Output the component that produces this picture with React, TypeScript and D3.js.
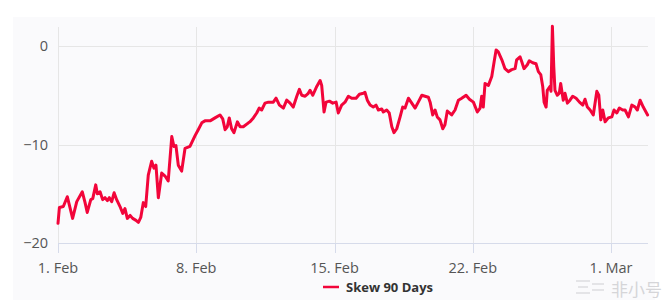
import React from "react";
import * as d3 from "d3";

// Days since 1 Feb 2021 (fractional) and 90-day skew values
const dayOffsets = [
  0, 0.07, 0.27, 0.47, 0.57, 0.74, 0.95, 1.23, 1.37, 1.48, 1.66, 1.76, 1.91, 1.99, 2.13, 2.26, 2.38, 2.5, 2.6, 2.72,
  2.84, 2.97, 3.14, 3.28, 3.39, 3.51, 3.65, 3.78, 3.95, 4.07, 4.19, 4.32, 4.44, 4.57, 4.74, 4.86, 4.96, 5.08, 5.25, 5.42,
  5.58, 5.76, 5.87, 5.97, 6.09, 6.26, 6.43, 6.68, 6.94, 7.1, 7.28, 7.44, 7.7, 7.95, 8.2, 8.34, 8.46, 8.57, 8.67, 8.79,
  8.91, 9.08, 9.22, 9.38, 9.64, 9.72, 9.89, 10.06, 10.19, 10.31, 10.48, 10.65, 10.9, 11.04, 11.21, 11.41, 11.58, 11.75, 11.91, 12.09,
  12.22, 12.34, 12.51, 12.67, 12.76, 12.9, 13.1, 13.27, 13.35, 13.47, 13.57, 13.74, 13.91, 14.08, 14.19, 14.36, 14.53, 14.7, 14.87, 15.09,
  15.26, 15.46, 15.54, 15.66, 15.8, 15.96, 16.1, 16.22, 16.39, 16.47, 16.64, 16.77, 16.9, 17.01, 17.15, 17.32, 17.45, 17.57, 17.74, 17.91,
  18.08, 18.24, 18.42, 18.58, 18.75, 18.84, 18.97, 19.09, 19.2, 19.34, 19.48, 19.59, 19.71, 19.93, 20.1, 20.27, 20.44, 20.66, 20.83, 21.03,
  21.23, 21.37, 21.45, 21.53, 21.62, 21.79, 21.96, 22.08, 22.18, 22.29, 22.47, 22.63, 22.8, 22.97, 23.14, 23.22, 23.39, 23.48, 23.59, 23.76,
  23.86, 24.03, 24.2, 24.32, 24.44, 24.54, 24.61, 24.71, 24.77, 24.91, 24.96, 25.03, 25.1, 25.16, 25.28, 25.38, 25.45, 25.58, 25.67, 25.79,
  25.92, 26.06, 26.23, 26.4, 26.57, 26.68, 26.8, 26.94, 27.1, 27.28, 27.38, 27.48, 27.58, 27.7, 27.86, 28.04, 28.15, 28.29, 28.42, 28.59,
  28.71, 28.88, 29.05, 29.22, 29.33, 29.47, 29.63, 29.85,
];

const skew90 = [
  -18.0, -16.4, -16.3, -15.3, -16.1, -17.5, -15.8, -14.8, -15.9, -16.9, -15.6, -15.5, -14.1, -15.0, -14.8, -15.6, -15.4, -15.7, -15.4, -15.8,
  -14.9, -15.6, -16.3, -17.0, -16.5, -17.5, -17.2, -17.5, -17.7, -17.9, -17.4, -15.9, -16.3, -13.1, -11.7, -12.4, -12.1, -15.4, -12.9, -13.2,
  -13.7, -9.2, -10.2, -10.1, -12.1, -12.7, -10.4, -10.2, -9.1, -8.5, -7.8, -7.6, -7.6, -7.3, -7.0, -7.4, -8.5, -8.2, -7.3, -8.4,
  -8.8, -7.7, -8.2, -8.2, -7.8, -7.7, -7.3, -6.8, -6.3, -6.5, -5.8, -5.7, -5.7, -5.3, -6.0, -6.3, -5.5, -5.8, -6.2, -5.1,
  -4.4, -5.0, -5.1, -4.8, -4.5, -5.0, -4.1, -3.5, -4.0, -6.7, -5.7, -5.6, -5.8, -5.7, -6.8, -6.0, -5.7, -5.1, -5.3, -5.3,
  -4.9, -4.8, -4.7, -5.5, -6.0, -6.2, -6.0, -6.5, -6.4, -6.7, -6.5, -6.8, -8.2, -8.8, -8.4, -7.2, -6.2, -6.3, -5.3, -5.8,
  -6.3, -5.7, -5.0, -5.1, -5.2, -5.7, -7.0, -6.5, -7.2, -7.5, -8.4, -8.0, -6.6, -7.0, -6.5, -5.5, -5.3, -5.0, -5.4, -5.7,
  -6.7, -6.3, -5.1, -6.2, -3.8, -4.0, -3.1, -1.6, -0.4, -0.6, -1.4, -2.3, -2.6, -2.4, -2.3, -1.4, -1.1, -1.6, -2.3, -1.9,
  -1.5, -1.7, -1.8, -2.6, -2.9, -4.1, -5.7, -6.2, -4.5, -4.1, -4.6, 2.0, -2.1, -4.5, -5.0, -4.8, -3.8, -5.5, -4.8, -5.8,
  -5.5, -5.1, -5.3, -5.7, -6.0, -5.4, -6.2, -6.5, -7.0, -4.6, -5.0, -7.5, -6.5, -7.7, -7.3, -7.2, -6.5, -6.8, -6.3, -6.5,
  -6.5, -7.2, -6.0, -6.2, -6.5, -5.5, -6.2, -7.0,
];

const yTicks = [0, -10, -20];
const xTickDates = ["2021-02-01", "2021-02-08", "2021-02-15", "2021-02-22", "2021-03-01"];
const xTickLabels = ["1. Feb", "8. Feb", "15. Feb", "22. Feb", "1. Mar"];
const seriesName = "Skew 90 Days";

const W = 670;
const H = 303;
const plotLeft = 58;
const plotRight = 648;
const plotTop = 27;
const plotBottom = 243;
const lineColor = "#f2053a";
const font = "'Open Sans', 'DejaVu Sans', sans-serif";

export default function App() {
  const start = new Date(2021, 1, 1);
  const dayMs = 86400000;
  const dates = dayOffsets.map((d) => new Date(start.getTime() + d * dayMs));
  const data = dates.map((d, i) => ({ date: d, v: skew90[i] }));

  const x = d3
    .scaleTime()
    .domain([start, new Date(start.getTime() + 29.87 * dayMs)])
    .range([plotLeft, plotRight]);
  const y = d3.scaleLinear().domain([-20, 0]).range([plotBottom, 46]);

  const line = d3
    .line<{ date: Date; v: number }>()
    .x((d) => x(d.date))
    .y((d) => y(d.v))
    .curve(d3.curveLinear);

  const tickDates = xTickDates.map((s) => {
    const [yy, mm, dd] = s.split("-").map(Number);
    return new Date(yy, mm - 1, dd);
  });

  return (
    <svg
      width={W}
      height={H}
      style={{ position: "absolute", left: 0, top: 0, background: "#ffffff" }}
    >
      <rect x={13} y={17} width={642} height={283} fill="#fafafc" />
      {/* horizontal grid */}
      {yTicks.map((t) => (
        <line
          key={"gy" + t}
          x1={plotLeft}
          x2={plotRight}
          y1={Math.round(y(t)) + 0.5}
          y2={Math.round(y(t)) + 0.5}
          stroke={t === -20 ? "#d6dbea" : "#e6e6e6"}
          strokeWidth={1}
        />
      ))}
      {/* vertical grid + ticks */}
      {tickDates.map((d, i) => (
        <g key={"gx" + i}>
          <line
            x1={Math.round(x(d)) + 0.5}
            x2={Math.round(x(d)) + 0.5}
            y1={plotTop}
            y2={plotBottom}
            stroke="#e6e6e6"
            strokeWidth={1}
          />
          <line
            x1={Math.round(x(d)) + 0.5}
            x2={Math.round(x(d)) + 0.5}
            y1={plotBottom}
            y2={plotBottom + 10}
            stroke="#d6dbea"
            strokeWidth={1}
          />
        </g>
      ))}
      {/* y labels */}
      {yTicks.map((t) => (
        <text
          key={"ly" + t}
          x={48}
          y={y(t) + 5}
          textAnchor="end"
          fontFamily={font}
          fontSize={14.5}
          fill="#555"
        >
          {t < 0 ? "\u2212" + Math.abs(t) : String(t)}
        </text>
      ))}
      {/* x labels */}
      {tickDates.map((d, i) => (
        <text
          key={"lx" + i}
          x={x(d)}
          y={273}
          textAnchor="middle"
          fontFamily={font}
          fontSize={14.5}
          fill="#555"
        >
          {xTickLabels[i]}
        </text>
      ))}
      {/* series */}
      <path d={line(data) || ""} fill="none" stroke={lineColor} strokeWidth={3} strokeLinejoin="round" strokeLinecap="round" />
      {/* legend */}
      <line x1={323} x2={339} y1={287} y2={287} stroke={lineColor} strokeWidth={2.5} />
      <text x={346} y={292} fontFamily={font} fontSize={13} fontWeight="bold" fill="#333">
        {seriesName}
      </text>
      {/* watermark */}
      <g fill="none" stroke="#dcdce0" strokeWidth={1.5}>
        <line x1={576} x2={590} y1={281} y2={281} />
        <line x1={578} x2={588} y1={287} y2={287} />
        <line x1={576} x2={590} y1={293} y2={293} />
        <line x1={592} x2={604} y1={284} y2={284} />
        <line x1={592} x2={604} y1={290} y2={290} />
      </g>
      <text x={662} y={296} textAnchor="end" fontFamily="'Noto Sans CJK SC', sans-serif" fontSize={17} fill="#d5d5d8">
        非小号
      </text>
    </svg>
  );
}
